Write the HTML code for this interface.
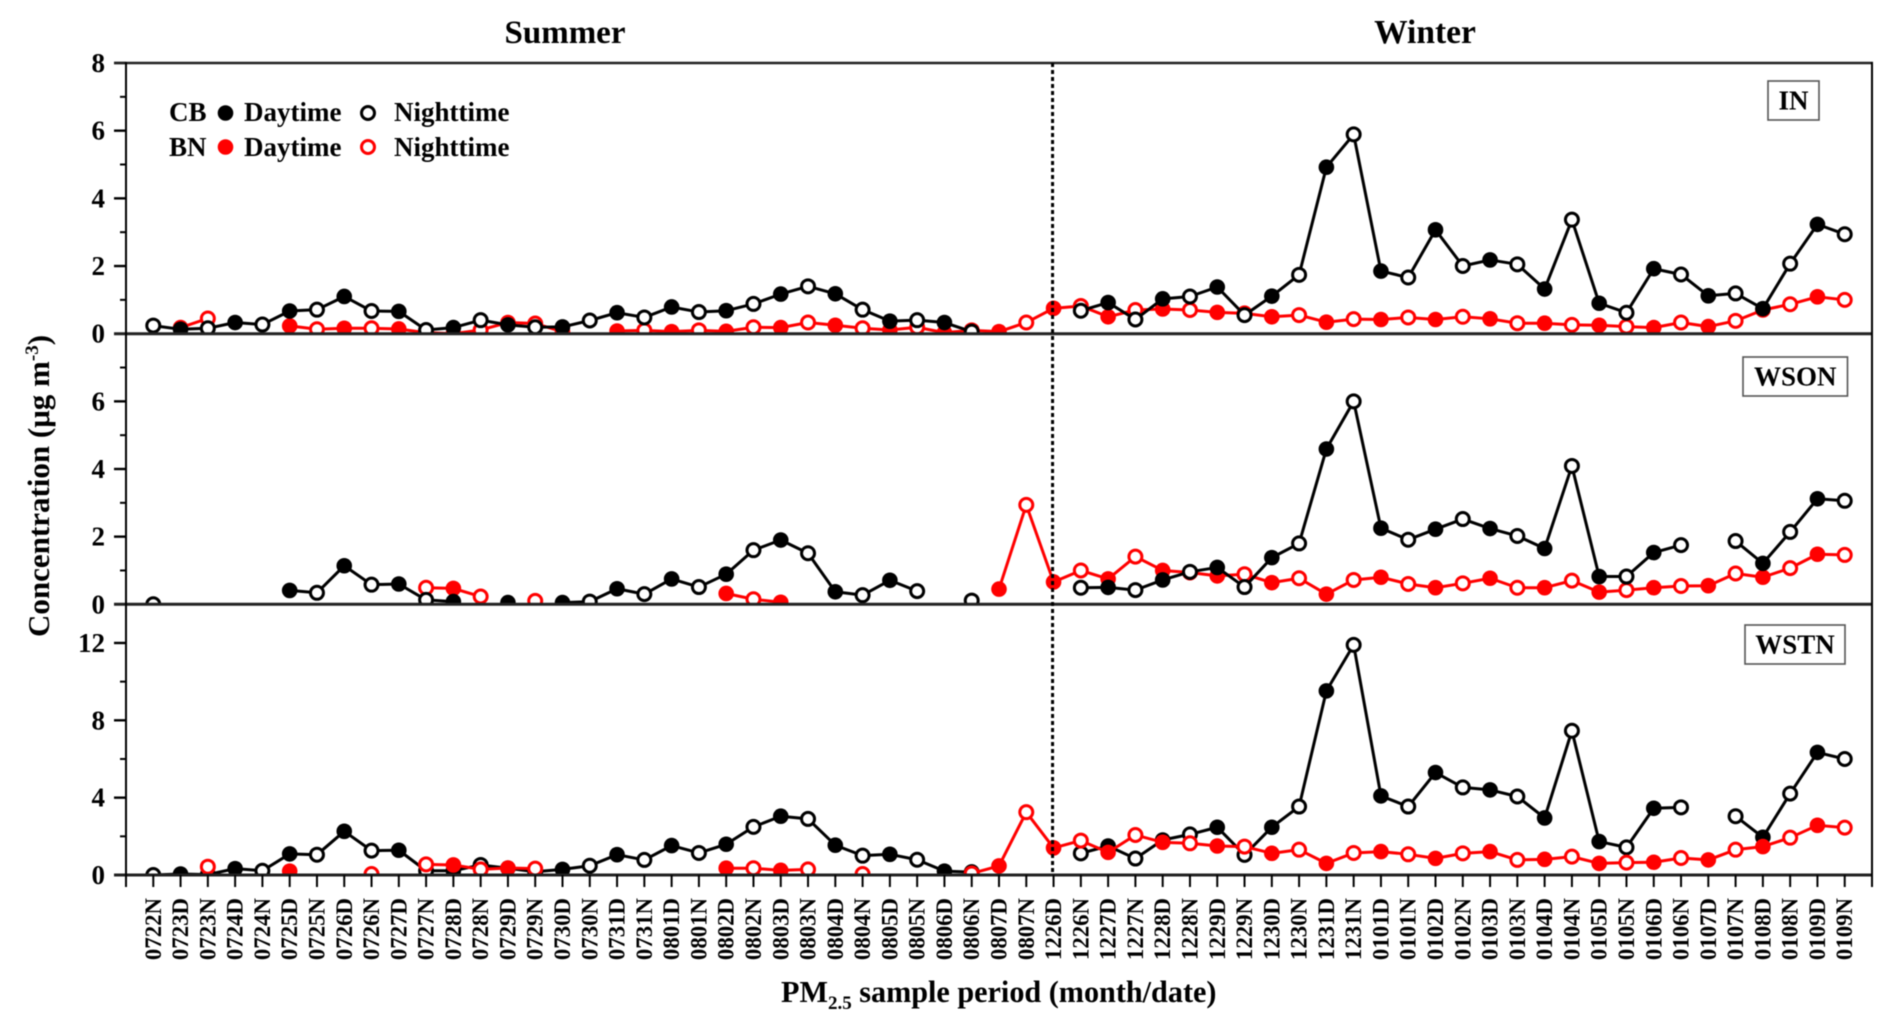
<!DOCTYPE html>
<html lang="en">
<head>
<meta charset="utf-8">
<title>PM2.5 concentration chart</title>
<style>
html,body{margin:0;padding:0;background:#fff;width:1892px;height:1030px;overflow:hidden}
svg{display:block;filter:blur(0.5px)}
text{font-family:"Liberation Serif",serif;font-weight:bold;fill:#000}
</style>
</head>
<body>
<svg id="chart" xmlns="http://www.w3.org/2000/svg" width="1892" height="1030" viewBox="0 0 1892 1030">
  <text x="565" y="43" font-size="33" text-anchor="middle">Summer</text>
  <text x="1425" y="43" font-size="33.5" text-anchor="middle">Winter</text>
  <text transform="translate(49,637) rotate(-90)" font-size="31">Concentration (μg m<tspan dy="-11" font-size="19">-3</tspan><tspan dy="11">)</tspan></text>
  <text x="781" y="1002" font-size="30.2">PM<tspan dy="7" font-size="19">2.5</tspan><tspan dy="-7"> sample period (month/date)</tspan></text>

  <g>
    <text x="169" y="121" font-size="27">CB</text>
    <text x="244" y="121" font-size="27">Daytime</text>
    <text x="394" y="121" font-size="27">Nighttime</text>
    <text x="169" y="156" font-size="27">BN</text>
    <text x="244" y="156" font-size="27">Daytime</text>
    <text x="394" y="156" font-size="27">Nighttime</text>
    <circle cx="225.5" cy="113" r="7.8" fill="#000"/>
    <circle cx="368" cy="113" r="6.5" fill="#fff" stroke="#000" stroke-width="3"/>
    <circle cx="225.5" cy="147" r="7.8" fill="#ff0000"/>
    <circle cx="368" cy="147" r="6.5" fill="#fff" stroke="#ff0000" stroke-width="3"/>
  </g>
</svg>
<script>
const categories = ["0722N","0723D","0723N","0724D","0724N","0725D","0725N","0726D","0726N","0727D","0727N","0728D","0728N","0729D","0729N","0730D","0730N","0731D","0731N","0801D","0801N","0802D","0802N","0803D","0803N","0804D","0804N","0805D","0805N","0806D","0806N","0807D","0807N","1226D","1226N","1227D","1227N","1228D","1228N","1229D","1229N","1230D","1230N","1231D","1231N","0101D","0101N","0102D","0102N","0103D","0103N","0104D","0104N","0105D","0105N","0106D","0106N","0107D","0107N","0108D","0108N","0109D","0109N"];

const inCB = [0.24,0.13,0.16,0.33,0.27,0.67,0.71,1.1,0.67,0.66,0.11,0.18,0.4,0.26,0.19,0.2,0.39,0.62,0.48,0.79,0.64,0.68,0.88,1.17,1.4,1.18,0.71,0.37,0.4,0.33,0.06,null,null,null,0.68,0.92,0.42,1.03,1.1,1.38,0.55,1.11,1.74,4.92,5.89,1.85,1.66,3.07,2.0,2.18,2.05,1.32,3.37,0.9,0.62,1.92,1.75,1.12,1.19,0.74,2.07,3.23,2.94];
const inBN = [null,0.18,0.45,null,null,0.23,0.13,0.16,0.16,0.14,0.03,0.0,0.11,0.33,0.3,0.06,null,0.08,0.1,0.06,0.1,0.07,0.19,0.18,0.33,0.25,0.16,0.11,0.19,0.03,0.1,0.06,0.33,0.75,0.82,0.5,0.7,0.73,0.7,0.63,0.6,0.5,0.55,0.34,0.43,0.42,0.48,0.42,0.5,0.44,0.31,0.31,0.26,0.25,0.21,0.18,0.33,0.21,0.38,0.7,0.87,1.09,1.0];

const wsonCB = [0.0,null,null,null,null,0.41,0.34,1.14,0.58,0.6,0.13,0.08,null,0.05,null,0.05,0.08,0.46,0.3,0.75,0.51,0.89,1.6,1.9,1.51,0.37,0.27,0.71,0.39,null,0.11,null,null,null,0.49,0.5,0.42,0.72,0.96,1.09,0.51,1.38,1.8,4.59,6.0,2.25,1.91,2.22,2.52,2.24,2.02,1.65,4.09,0.82,0.82,1.53,1.75,null,1.87,1.21,2.14,3.12,3.06];
const wsonBN = [null,null,null,null,null,null,null,null,null,null,0.49,0.47,0.23,null,0.1,null,null,null,null,null,null,0.32,0.15,0.06,null,null,null,null,null,null,null,0.45,2.94,0.66,1.0,0.75,1.41,1.0,0.94,0.84,0.89,0.64,0.77,0.3,0.72,0.8,0.6,0.49,0.62,0.77,0.49,0.49,0.7,0.36,0.42,0.49,0.54,0.55,0.91,0.8,1.07,1.48,1.46];

const wstnCB = [0.0,0.05,0.02,0.33,0.22,1.09,1.05,2.26,1.26,1.28,0.22,0.22,0.52,0.35,0.17,0.29,0.48,1.05,0.78,1.52,1.14,1.59,2.49,3.04,2.9,1.54,1.0,1.07,0.79,0.2,0.15,null,null,null,1.12,1.5,0.85,1.81,2.1,2.47,1.04,2.47,3.54,9.52,11.9,4.09,3.54,5.3,4.53,4.4,4.06,2.95,7.46,1.73,1.43,3.45,3.5,null,3.04,1.95,4.21,6.34,6.0];
const wstnBN = [null,null,0.43,null,null,0.2,null,null,0.05,null,0.55,0.52,0.29,0.36,0.33,null,null,null,null,null,null,0.35,0.35,0.24,0.29,null,0.05,null,null,null,0.08,0.47,3.25,1.4,1.78,1.17,2.07,1.69,1.64,1.5,1.47,1.12,1.31,0.6,1.14,1.21,1.07,0.86,1.12,1.21,0.78,0.81,0.95,0.6,0.64,0.66,0.88,0.78,1.31,1.47,1.93,2.57,2.45];

const inMajorTicks = [0,2,4,6,8];
const inMinorTicks = [1,3,5,7];
const wsonMajorTicks = [0,2,4,6];
const wsonMinorTicks = [1,3,5,7];
const wstnMajorTicks = [0,4,8,12];
const wstnMinorTicks = [2,6,10];

const SVGNS = 'http://www.w3.org/2000/svg';
const svg = document.getElementById('chart');
const BLACK = '#000000';
const RED = '#ff0000';
const LEFT = 126, RIGHT = 1872;

function xScale(i) { return LEFT + (i + 1) * (RIGHT - LEFT) / 64; }
function makeYScale(top, bottom, max) {
  return function (v) { return bottom - v * (bottom - top) / max; };
}
function make(tag, attrs, parent) {
  const el = document.createElementNS(SVGNS, tag);
  for (const k in attrs) el.setAttribute(k, attrs[k]);
  (parent || svg).appendChild(el);
  return el;
}

const defs = make('defs', {});

function drawSeries(group, values, color, yScale, seriesName, clipId) {
  const g = make('g', { 'clip-path': 'url(#' + clipId + ')' }, group);
  
  
  let d = '';
  let pen = false;
  values.forEach(function (v, i) {
    if (v === null) { pen = false; return; }
    d += (pen ? 'L' : 'M') + xScale(i).toFixed(2) + ' ' + yScale(v).toFixed(2);
    pen = true;
  });
  const line = make('path', { d: d, fill: 'none', stroke: color, 'stroke-width': 3, 'stroke-linejoin': 'round' }, g);
  
  
  values.forEach(function (v, i) {
    if (v === null) return;
    const isDay = categories[i].endsWith('D');
    const c = make('circle', {
      cx: xScale(i).toFixed(2),
      cy: yScale(v).toFixed(2),
      r: isDay ? 7.8 : 6.5,
      fill: isDay ? color : '#fff',
      stroke: isDay ? 'none' : color,
      'stroke-width': isDay ? 0 : 3
    }, g);
    
    
  });
}

function drawPanel(name, top, bottom, max, majors, minors, cb, bn, redOnTop) {
  const y = makeYScale(top, bottom, max);
  const group = make('g', {});
  
  

  const clip = make('clipPath', { id: 'clip-' + name }, defs);
  make('rect', { x: LEFT, y: top, width: RIGHT - LEFT, height: bottom - top }, clip);

  if (redOnTop) {
    drawSeries(group, cb, BLACK, y, name + '-cb-series', 'clip-' + name);
    drawSeries(group, bn, RED, y, name + '-bn-series', 'clip-' + name);
  } else {
    drawSeries(group, bn, RED, y, name + '-bn-series', 'clip-' + name);
    drawSeries(group, cb, BLACK, y, name + '-cb-series', 'clip-' + name);
  }

  majors.forEach(function (t) {
    const tick = make('line', { x1: LEFT - 12, x2: LEFT, y1: y(t), y2: y(t), stroke: '#000', 'stroke-width': 2.4 }, group);
    
    
    const label = make('text', { x: 105, y: y(t) + 9, 'font-size': 27, 'text-anchor': 'end' }, group);
    
    
    label.textContent = String(t);
  });
  minors.forEach(function (t) {
    const tick = make('line', { x1: LEFT - 6, x2: LEFT, y1: y(t), y2: y(t), stroke: '#000', 'stroke-width': 2 }, group);
    
    
  });
  const base = make('line', { x1: LEFT - 12, x2: RIGHT + 1, y1: bottom, y2: bottom, stroke: '#222', 'stroke-width': 3 }, group);
  
  
}

drawPanel('in', 63, 333.7, 8, inMajorTicks, inMinorTicks, inCB, inBN, false);
drawPanel('wson', 333.7, 604.3, 8, wsonMajorTicks, wsonMinorTicks, wsonCB, wsonBN, false);
drawPanel('wstn', 604.3, 875, 14, wstnMajorTicks, wstnMinorTicks, wstnCB, wstnBN, true);

const topLine = make('line', { x1: LEFT - 12, x2: RIGHT + 1, y1: 63, y2: 63, stroke: '#222', 'stroke-width': 2.6 });


const leftAxis = make('line', { x1: LEFT, x2: LEFT, y1: 62, y2: 887, stroke: '#000', 'stroke-width': 2 });


const rightAxis = make('line', { x1: RIGHT, x2: RIGHT, y1: 62, y2: 887, stroke: '#000', 'stroke-width': 2 });



const divider = make('line', { x1: xScale(33) - 1, x2: xScale(33) - 1, y1: 63, y2: 875, stroke: '#000', 'stroke-width': 3, 'stroke-dasharray': '4 3' });



categories.forEach(function (c, i) {
  const x = xScale(i);
  const tick = make('line', { x1: x, x2: x, y1: 875, y2: 887, stroke: '#000', 'stroke-width': 2 });
  
  
  const label = make('text', { transform: 'translate(' + (x + 7.5).toFixed(2) + ',898) rotate(-90)', 'font-size': 22.8, 'text-anchor': 'end' });
  
  
  label.textContent = c;
});

function drawBox(name, text, x, y, w, h) {
  const g = make('g', {});
  
  
  make('rect', { x: x, y: y, width: w, height: h, fill: '#fff', stroke: '#555', 'stroke-width': 1.6 }, g);
  const t = make('text', { x: x + w / 2, y: y + h / 2 + 9, 'font-size': 27, 'text-anchor': 'middle' }, g);
  t.textContent = text;
}
drawBox('in', 'IN', 1768, 81, 51, 39);
drawBox('wson', 'WSON', 1743, 357, 104.5, 39);
drawBox('wstn', 'WSTN', 1745, 625, 100, 39);
</script>
</body>
</html>
